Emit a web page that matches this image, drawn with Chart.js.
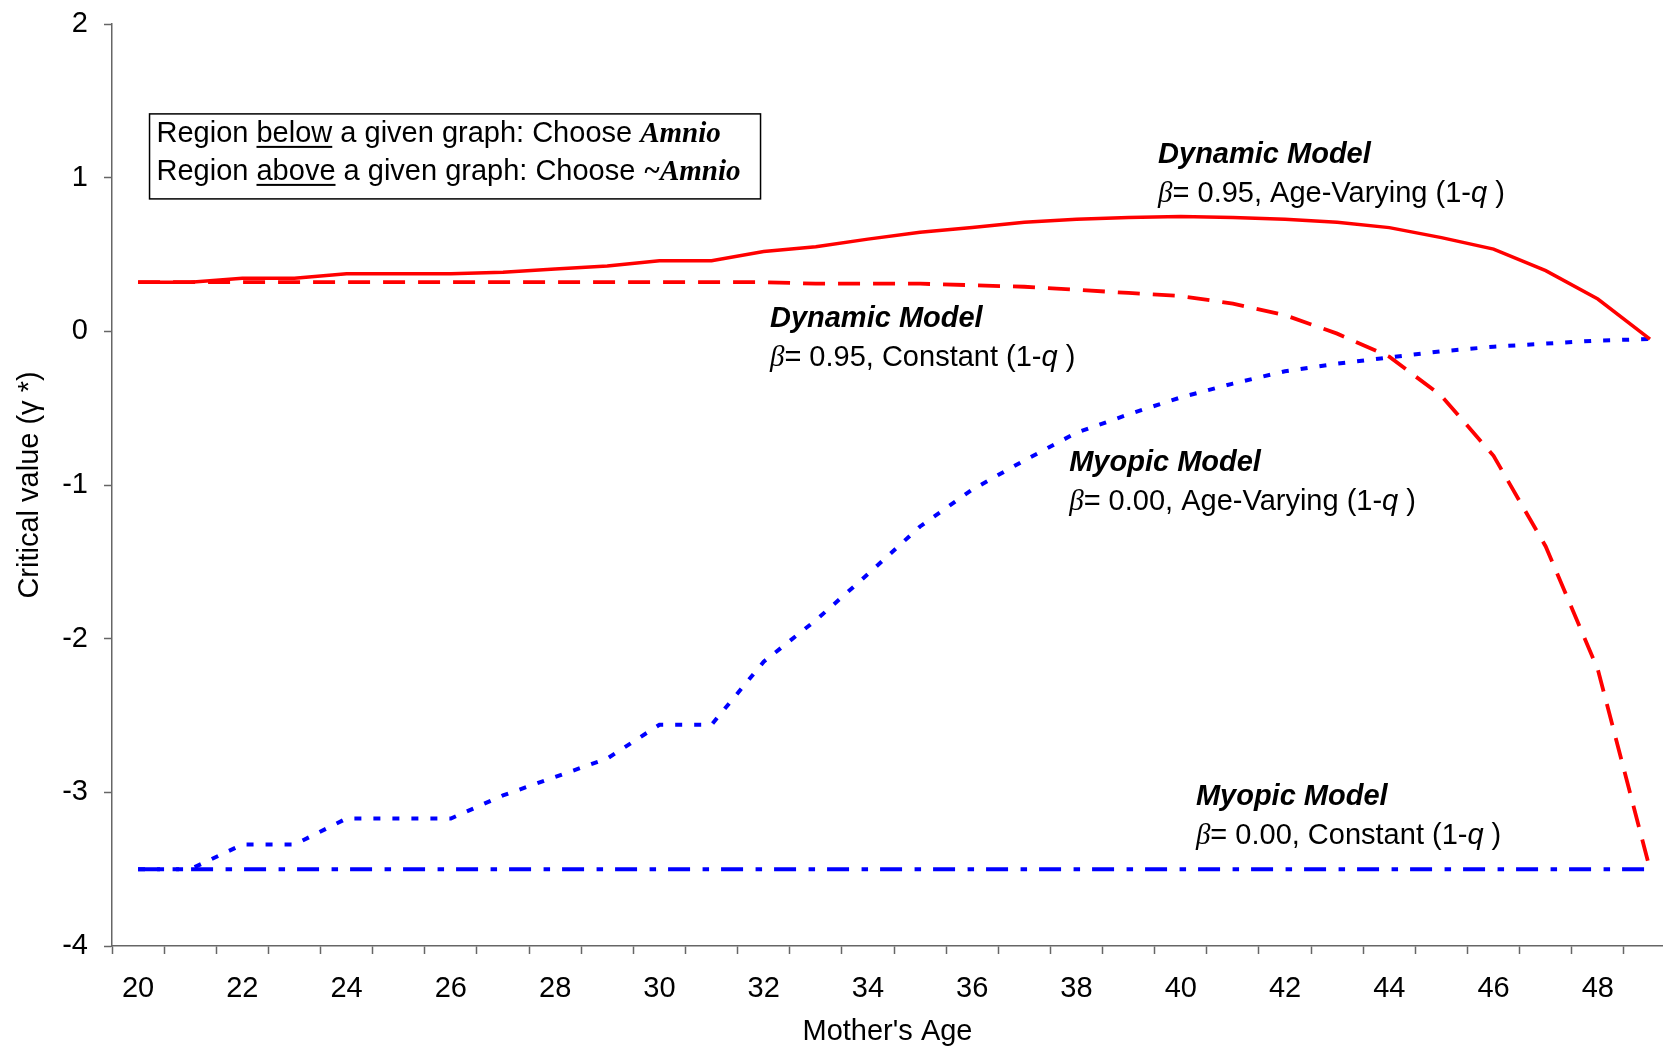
<!DOCTYPE html>
<html>
<head>
<meta charset="utf-8">
<script src="https://cdn.jsdelivr.net/npm/chart.js@4.4.1/dist/chart.umd.min.js"></script>
<style>
html,body{margin:0;padding:0;background:#fff;overflow:hidden}
#wrap{width:1663px;height:1051px}
</style>
</head>
<body>
<div id="wrap"><canvas id="chart" width="1663" height="1051"></canvas></div>
<script>
// mother's age (categories)
const ages = [20,21,22,23,24,25,26,27,28,29,30,31,32,33,34,35,36,37,38,39,40,41,42,43,44,45,46,47,48,49]

// critical value y* for each model
const dynamicAgeVarying = [0.32,0.32,0.345,0.345,0.375,0.375,0.375,0.385,0.405,0.425,0.46,0.46,0.52,0.55,0.60,0.645,0.675,0.71,0.73,0.74,0.748,0.74,0.73,0.71,0.675,0.61,0.535,0.395,0.21,-0.05]
const dynamicConstant = [0.32,0.32,0.32,0.32,0.32,0.32,0.32,0.32,0.32,0.32,0.32,0.32,0.32,0.31,0.31,0.31,0.30,0.29,0.27,0.25,0.23,0.18,0.105,-0.015,-0.165,-0.42,-0.81,-1.40,-2.20,-3.50]
const myopicAgeVarying = [-3.50,-3.50,-3.34,-3.34,-3.17,-3.17,-3.17,-3.02,-2.90,-2.78,-2.56,-2.56,-2.15,-1.88,-1.58,-1.27,-1.03,-0.84,-0.66,-0.54,-0.43,-0.34,-0.26,-0.21,-0.17,-0.13,-0.10,-0.08,-0.06,-0.05]
const myopicConstant = [-3.5,-3.5,-3.5,-3.5,-3.5,-3.5,-3.5,-3.5,-3.5,-3.5,-3.5,-3.5,-3.5,-3.5,-3.5,-3.5,-3.5,-3.5,-3.5,-3.5,-3.5,-3.5,-3.5,-3.5,-3.5,-3.5,-3.5,-3.5,-3.5,-3.5]

// axis labels
const xTickLabels = [20,22,24,26,28,30,32,34,36,38,40,42,44,46,48]
const yTickLabels = [2,1,0,-1,-2,-3,-4]

const SANS = '"Liberation Sans", Arial, sans-serif'
const SERIF = '"Liberation Serif", "Times New Roman", serif'
const AXIS_GREY = "#666666"

function points(values){
return ages.map((a,i)=>({x:a,y:values[i]}))
}

// text runs: [text, font, underline]
function drawRuns(ctx, x, y, runs){
ctx.textBaseline = "alphabetic"
ctx.textAlign = "left"
runs.forEach(r=>{
ctx.font = r[1]
ctx.fillText(r[0], x, y)
let w = ctx.measureText(r[0]).width
if(r[2]){
ctx.fillRect(x, y+4, w, 2)
}
x += w
})
}

const f = (style)=> style + " 29px " + SANS
const fs = (style)=> style + " 29px " + SERIF

// annotations anchored in data units (left edge, baseline of first line)
const notes = [
{x:39.565, y:1.093, title:"Dynamic Model", beta:"= 0.95, Age-Varying (1-"},
{x:32.12, y:0.026, title:"Dynamic Model", beta:"= 0.95, Constant (1-"},
{x:37.86, y:-0.91, title:"Myopic Model", beta:"= 0.00, Age-Varying (1-"},
{x:40.29, y:-3.084, title:"Myopic Model", beta:"= 0.00, Constant (1-"}
]

const notesPlugin = {
id:"notes",
afterDatasetsDraw(chart){
const ctx = chart.ctx
const xs = chart.scales.x
const ys = chart.scales.y
ctx.save()
ctx.fillStyle = "#000"

notes.forEach(n=>{
let px = xs.getPixelForValue(n.x)
let py = ys.getPixelForValue(n.y)
drawRuns(ctx, px, py, [[n.title, f("italic bold")]])
drawRuns(ctx, px, py+39, [
["\u03B2", fs("italic")],
[n.beta, f("normal")],
["q", f("italic")],
[" )", f("normal")]
])
})

// text box
let bx = xs.getPixelForValue(20.22)
let by = ys.getPixelForValue(1.415)
ctx.strokeStyle = "#000"
ctx.lineWidth = 1.5
ctx.strokeRect(bx, by, 611, 85)
drawRuns(ctx, bx+7, by+28, [
["Region ", f("normal")],
["below", f("normal"), true],
[" a given graph: Choose ", f("normal")],
["Amnio", fs("italic bold")]
])
drawRuns(ctx, bx+7, by+66, [
["Region ", f("normal")],
["above", f("normal"), true],
[" a given graph: Choose ", f("normal")],
["~Amnio", fs("italic bold")]
])
ctx.restore()
}
}

new Chart(document.getElementById("chart"),{
type:"line",
data:{
datasets:[
{
label:"Dynamic, age-varying",
data:points(dynamicAgeVarying),
borderColor:"#ff0000",
borderWidth:3.5,
order:0
},
{
label:"Myopic, age-varying",
data:points(myopicAgeVarying),
borderColor:"#0000ff",
borderWidth:4,
borderDash:[7,12],
order:1
},
{
label:"Dynamic, constant",
data:points(dynamicConstant),
borderColor:"#ff0000",
borderWidth:3.8,
borderDash:[22,13],
order:2
},
{
label:"Myopic, constant",
data:points(myopicConstant),
borderColor:"#0000ff",
borderWidth:4,
borderDash:[22,12.5,6.5,12],
order:3
}
]
},
options:{
responsive:false,
animation:false,
devicePixelRatio:1,
layout:{padding:{top:24,right:0,left:0,bottom:0}},
elements:{
point:{radius:0},
line:{tension:0}
},
plugins:{
legend:{display:false},
tooltip:{enabled:false}
},
scales:{
x:{
type:"linear",
min:19.5,
max:49.25,
afterBuildTicks(s){
let t = []
for(let v=19.5; v<=49.25; v+=0.5) t.push({value:v})
s.ticks = t
},
afterFit(s){
s.height = 105
s.paddingLeft = 0
s.paddingRight = 0
},
border:{display:true,color:AXIS_GREY,width:1.5},
grid:{
drawOnChartArea:false,
drawTicks:true,
tickLength:8,
tickWidth:1.5,
tickColor:(c)=> (c.tick && c.tick.value % 1 !== 0) ? AXIS_GREY : "rgba(0,0,0,0)"
},
ticks:{
autoSkip:false,
maxRotation:0,
padding:18,
color:"#000",
font:{family:SANS,size:29},
callback:(v)=> xTickLabels.includes(v) ? String(v) : ""
},
title:{
display:true,
text:"Mother's Age",
color:"#000",
font:{family:SANS,size:29},
padding:{top:4,bottom:2}
}
},
y:{
type:"linear",
min:-4,
max:2,
afterBuildTicks(s){
s.ticks = yTickLabels.map(v=>({value:v}))
},
afterFit(s){
s.width = 112
s.paddingTop = 0
s.paddingBottom = 0
},
border:{display:true,color:AXIS_GREY,width:1.5},
grid:{
drawOnChartArea:false,
drawTicks:true,
tickLength:8,
tickWidth:1.5,
tickColor:AXIS_GREY
},
ticks:{
padding:16,
color:"#000",
font:{family:SANS,size:29}
},
title:{
display:true,
text:"Critical value (\u03B3 *)",
color:"#000",
font:{family:SANS,size:29},
padding:{top:13,bottom:4}
}
}
}
},
plugins:[notesPlugin]
})
</script>
</body>
</html>
